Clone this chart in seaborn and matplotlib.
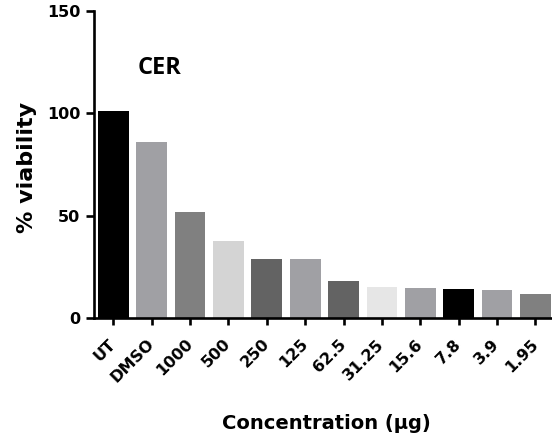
import matplotlib
matplotlib.use("Agg")
import matplotlib.pyplot as plt
import seaborn as sns
import pandas as pd

# Cell viability per treatment
categories = ["UT", "DMSO", "1000", "500", "250", "125", "62.5", "31.25",
              "15.6", "7.8", "3.9", "1.95"]
viability = [101, 86, 52, 37.6, 28.6, 28.9, 18.2, 15.0, 14.8, 14.1, 13.5, 11.6]
bar_colors = ["#000000", "#a0a0a4", "#808080", "#d4d4d4", "#636363", "#a0a0a4",
              "#636363", "#e6e6e6", "#a0a0a4", "#000000", "#a0a0a4", "#808080"]
y_ticks = [0, 50, 100, 150]

sns.set_style("ticks")
plt.rcParams["font.family"] = ["DejaVu Sans"]
plt.rcParams["font.weight"] = "bold"
for key in ("text.color", "axes.labelcolor", "xtick.color", "ytick.color"):
    plt.rcParams[key] = "black"

df = pd.DataFrame({"conc": categories, "viability": viability})

fig = plt.figure(figsize=(5.52, 4.47), dpi=100)
ax = fig.add_axes([94 / 552, 1 - 318 / 447, 1 - 94 / 552, (318 - 11) / 447])

sns.barplot(data=df, x="conc", y="viability", hue="conc",
            palette=dict(zip(categories, bar_colors)), legend=False,
            width=0.8, linewidth=0, saturation=1, ax=ax)

ax.set_xlim(-0.5, 11.43)
ax.set_ylim(0, 150)
ax.set_yticks(y_ticks)
ax.set_yticklabels([str(v) for v in y_ticks], fontsize=11.5, fontweight="bold")

for side in ("top", "right"):
    ax.spines[side].set_visible(False)
for side in ("left", "bottom"):
    ax.spines[side].set_linewidth(1.9)
    ax.spines[side].set_color("black")

ax.tick_params(axis="y", length=6, width=1.9, pad=4, colors="black")
ax.tick_params(axis="x", length=5, width=1.9, pad=12, colors="black")
ax.set_xticks(range(len(categories)))
ax.set_xticklabels(categories, fontsize=11.5, fontweight="bold",
                   rotation=45, ha="right", va="center", rotation_mode="anchor")

ax.set_xlabel("Concentration (µg)", fontsize=14, fontweight="bold", va="top")
ax.xaxis.set_label_coords(0.5066, -0.312)
ax.set_ylabel("% viability", fontsize=16, fontweight="bold")
ax.yaxis.set_label_coords(-0.1245, 0.492)

ax.text(0.625, 119, "CER", fontsize=17, fontweight="bold",
        family=["Open Sans", "DejaVu Sans"], ha="left", va="baseline")

fig.savefig("out.png", dpi=100)
